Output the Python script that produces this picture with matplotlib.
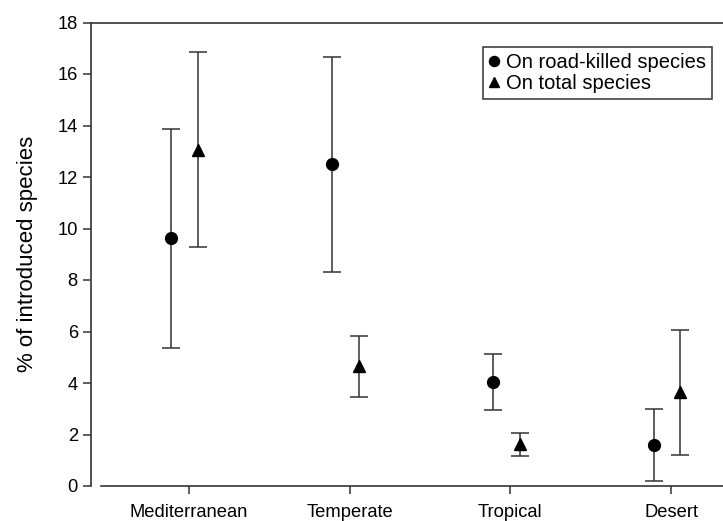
import matplotlib.pyplot as plt

plt.rcParams['font.family'] = ['Liberation Sans', 'DejaVu Sans']

regions = ['Mediterranean', 'Temperate', 'Tropical', 'Desert']

# % on road-killed species (circles)
road_mean = [9.62, 12.49, 4.04, 1.58]
road_upper = [13.85, 16.65, 5.14, 2.98]
road_lower = [5.37, 8.31, 2.94, 0.19]

# % on total species (triangles)
total_mean = [13.06, 4.65, 1.62, 3.64]
total_upper = [16.84, 5.83, 2.05, 6.06]
total_lower = [9.28, 3.46, 1.18, 1.20]

yticks = [0, 2, 4, 6, 8, 10, 12, 14, 16, 18]

fig = plt.figure(figsize=(7.23, 5.21), dpi=100)
ax = fig.add_axes([91 / 723, 1 - 486 / 521, 1 - 91 / 723, (486 - 22.5) / 521])

x = list(range(1, len(regions) + 1))
x_road = [i - 0.109 for i in x]
x_total = [i + 0.058 for i in x]

road_err = [[m - lo for m, lo in zip(road_mean, road_lower)],
            [hi - m for m, hi in zip(road_mean, road_upper)]]
total_err = [[m - lo for m, lo in zip(total_mean, total_lower)],
             [hi - m for m, hi in zip(total_mean, total_upper)]]

ax.errorbar(x_road, road_mean, yerr=road_err, fmt='o', color='black', ms=8.5,
            ecolor='#333333', elinewidth=1.1, capsize=6.5, capthick=1.1,
            label='On road-killed species')
ax.errorbar(x_total, total_mean, yerr=total_err, fmt='^', color='black', ms=8.5,
            ecolor='#333333', elinewidth=1.1, capsize=6.5, capthick=1.1,
            label='On total species')

ax.set_xlim(0.392, 4.323)
ax.set_ylim(0, 18)
ax.set_yticks(yticks)
ax.set_xticks(x)
ax.set_xticklabels(regions)
ax.tick_params(axis='both', labelsize=13.2, length=6, width=1.1, direction='out', color='#333333')
ax.tick_params(axis='x', pad=7)
ax.set_ylabel('% of introduced species', fontsize=16, labelpad=14)

for side in ['left', 'top', 'bottom']:
    ax.spines[side].set_linewidth(1.2)
    ax.spines[side].set_color('#333333')
ax.spines['right'].set_visible(False)
ax.spines['bottom'].set_bounds(0.454, 4.323)

handles, labels = ax.get_legend_handles_labels()
handles = [h[0] for h in handles]
leg = ax.legend(handles, labels, loc='upper left', bbox_to_anchor=(0.62, 0.947),
                fontsize=14.5, frameon=True, fancybox=False, handlelength=0.5,
                handletextpad=0.35, markerscale=0.85, borderpad=0.3,
                labelspacing=0.1, borderaxespad=0)
leg.get_frame().set_edgecolor('black')
leg.get_frame().set_linewidth(1.1)

fig.savefig('out.png', dpi=100)
